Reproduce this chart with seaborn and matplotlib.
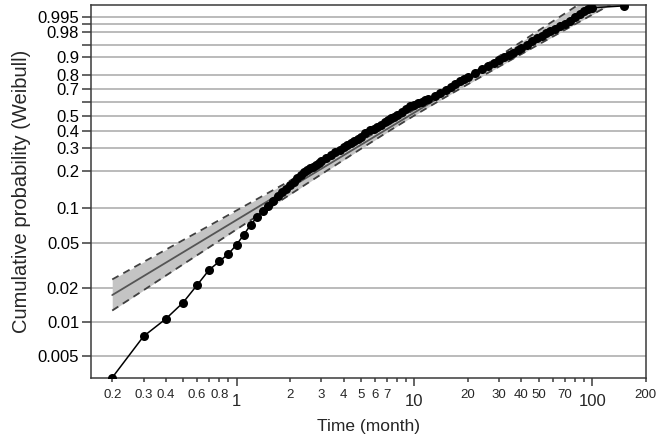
import numpy as np
import matplotlib
matplotlib.use("Agg")
import matplotlib.pyplot as plt
import seaborn as sns
import pandas as pd

# observed failure times (month) and plotting positions (cumulative probability)
t_obs = [0.2, 0.3, 0.4, 0.5, 0.6, 0.7, 0.8, 0.9, 1.0, 1.1, 1.2, 1.3, 1.4, 1.5,
         1.6, 1.7, 1.8, 1.9, 2.0, 2.1, 2.2, 2.3, 2.4, 2.5, 2.6, 2.7, 2.8, 2.9, 3.0,
         3.2, 3.4, 3.6, 3.8, 4.0, 4.2, 4.4, 4.6, 4.8, 5.0, 5.3, 5.6, 5.9, 6.2, 6.5,
         6.8, 7.1, 7.4, 7.7, 8.0, 8.5, 9.0, 9.5, 10, 10.5, 11, 11.5, 12, 13, 14, 15,
         16, 17, 18, 19, 20, 22, 24, 26, 28, 30, 32, 34, 36, 38, 40, 43, 46, 49, 52,
         55, 58, 62, 66, 70, 75, 80, 85, 90, 95, 100, 151]
p_obs = [0.00322, 0.0075, 0.0107, 0.0149, 0.0213, 0.0289, 0.0344, 0.0400, 0.0481,
         0.0590, 0.0713, 0.0830, 0.0941, 0.1040,
         0.1141, 0.1245, 0.1345, 0.1444, 0.1545, 0.1647, 0.1750, 0.1853, 0.1956,
         0.2028, 0.2102, 0.2175, 0.2247, 0.2318, 0.2389,
         0.2529, 0.2666, 0.2801, 0.2933, 0.3060, 0.3179, 0.3295, 0.3410, 0.3521,
         0.3631, 0.3840, 0.4020, 0.4104, 0.4255, 0.4403,
         0.4546, 0.4686, 0.4822, 0.4954, 0.5083, 0.5297, 0.5501, 0.5688, 0.5813,
         0.5934, 0.6048, 0.6158, 0.6264, 0.6484, 0.6732, 0.6962,
         0.7173, 0.7370, 0.7550, 0.7708, 0.7854, 0.8117, 0.8344, 0.8542, 0.8714,
         0.8865, 0.8996, 0.9111, 0.9213, 0.9302, 0.9381, 0.9497, 0.9592, 0.9669,
         0.9727, 0.9769, 0.9804, 0.9842, 0.9872, 0.9897, 0.9926, 0.99485, 0.99644,
         0.99754, 0.9980, 0.9983, 0.99868]

# fitted Weibull line and its confidence band
fit_t = [0.2, 100]
fit_p = [0.0174, 0.9988]
band_t = [0.2, 0.3, 0.5, 0.7, 1, 1.5, 2, 3, 5, 7, 10, 15, 20, 30, 50, 70, 100, 150]
band_lo = [0.0127, 0.0192, 0.0324, 0.0456, 0.0653, 0.0975, 0.1290, 0.1890, 0.2970,
           0.3899, 0.5033, 0.6402, 0.7351, 0.8519, 0.9504, 0.9824, 0.99605, 0.99963]
band_hi = [0.0239, 0.0340, 0.0527, 0.0701, 0.0948, 0.1327, 0.1676, 0.2314, 0.3398,
           0.4309, 0.5457, 0.6900, 0.7910, 0.9061, 0.9817, 0.99649, 0.99972, 0.99999]

# axis ticks
y_ticks = [0.005, 0.01, 0.02, 0.05, 0.1, 0.2, 0.3, 0.4, 0.5, 0.6, 0.7, 0.8, 0.9,
           0.95, 0.98, 0.99, 0.995]
y_labels = ["0.005", "0.01", "0.02", "0.05", "0.1", "0.2", "0.3", "0.4", "0.5", "",
            "0.7", "0.8", "0.9", "", "0.98", "", "0.995"]
x_major = [1, 10, 100]
x_major_labels = ["1", "10", "100"]
x_minor = [0.2, 0.3, 0.4, 0.5, 0.6, 0.7, 0.8, 0.9, 2, 3, 4, 5, 6, 7, 8, 9,
           20, 30, 40, 50, 60, 70, 80, 90, 200]
x_minor_labels = ["0.2", "0.3", "0.4", "", "0.6", "", "0.8", "", "2", "3", "4", "5",
                  "6", "7", "", "", "20", "30", "40", "50", "", "70", "", "", "200"]

sns.set_style("ticks")
plt.rcParams['font.family'] = ['Liberation Sans', 'DejaVu Sans']

df = pd.DataFrame({"Time": t_obs, "Prob": p_obs})


def weib(p):
    p = np.clip(np.asarray(p, dtype=float), 1e-12, 1 - 1e-12)
    return np.log(-np.log(1 - p))


def weib_inv(w):
    return 1 - np.exp(-np.exp(np.asarray(w, dtype=float)))


fig = plt.figure(figsize=(6.62, 4.41), dpi=100)
ax = fig.add_axes([0.1375, 0.143, 0.838, 0.846])
ax.set_xscale('log')
ax.set_yscale('function', functions=(weib, weib_inv))

dark = '#3a3a3a'
ax.fill_between(band_t, band_lo, band_hi, color='#c4c4c4', lw=0, zorder=2)
ax.plot(band_t, band_lo, color='#404040', lw=1.3, ls=(0, (4, 3)), zorder=3)
ax.plot(band_t, band_hi, color='#404040', lw=1.3, ls=(0, (4, 3)), zorder=3)
ax.plot(fit_t, fit_p, color='#555555', lw=1.3, zorder=3)
sns.lineplot(data=df, x="Time", y="Prob", estimator=None, sort=False, color='black',
             lw=1.1, marker='o', markersize=6.5, markeredgewidth=0, ax=ax, zorder=4)

ax.set_xlim(0.152, 200)
ax.set_ylim(0.0032, 0.99885)

ax.set_yticks(y_ticks, y_labels)
ax.yaxis.set_minor_locator(matplotlib.ticker.NullLocator())
ax.set_xticks(x_major, x_major_labels)
ax.set_xticks(x_minor, x_minor_labels, minor=True)

ax.grid(axis='y', color='#b5b5b5', lw=1.3, zorder=0)
ax.set_axisbelow(True)

for s in ax.spines.values():
    s.set_color(dark)
    s.set_linewidth(1.1)

ax.tick_params(axis='y', length=6.5, width=1.1, color=dark, labelsize=12, pad=2,
               labelcolor='black')
ax.tick_params(axis='x', which='major', length=6, width=1.1, color=dark,
               labelsize=12, pad=5.5)
ax.tick_params(axis='x', which='minor', length=3, width=1.1, color=dark,
               labelsize=9.5, pad=5)

ax.set_xlabel("Time (month)", fontsize=12.5, labelpad=7)
ax.set_ylabel("Cumulative probability (Weibull)", fontsize=14.5, labelpad=5)

plt.savefig('out.png', dpi=100)
